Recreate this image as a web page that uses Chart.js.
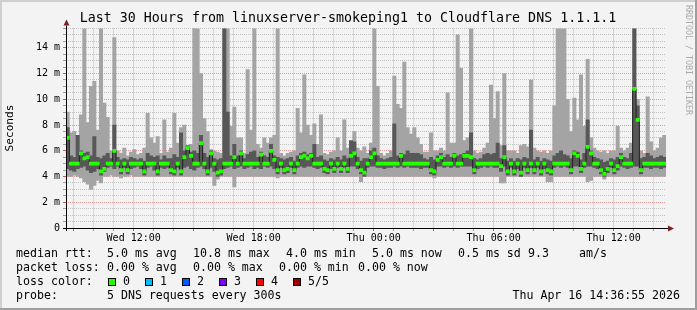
<!DOCTYPE html>
<html>
<head>
<meta charset="utf-8">
<script src="https://cdn.jsdelivr.net/npm/chart.js@4"></script>
<style>
  html, body { margin: 0; padding: 0; background: #f3f3f3; }
  canvas { display: block; }
</style>
</head>
<body>
<canvas id="chart" width="697" height="310"></canvas>
<script>
// 10-minute slots over the last 30 hours, values in ms

// ping 5 of 5 (top of the light smoke)
const pingMax = [
  9.0, 7.4, 7.5, 6.5, 8.8, 16, 8.2, 11.0, 11.4, 7.6,
  16, 9.7, 8.6, 6.0, 14.8, 6.0, 5.8, 6.2, 5.6, 5.9,
  6.1, 5.7, 5.8, 6.2, 8.9, 7.0, 6.6, 7.1, 5.8, 8.4,
  5.9, 6.2, 8.9, 6.6, 7.8, 8.0, 6.2, 6.5, 16, 16,
  12.0, 8.5, 7.5, 6.1, 6.0, 5.9, 5.8, 16, 16, 7.9,
  9.4, 7.0, 7.0, 5.8, 12.3, 7.6, 16, 6.5, 6.2, 7.0,
  6.6, 7.0, 7.2, 16, 5.8, 5.6, 5.8, 5.9, 6.0, 9.3,
  7.4, 11.9, 8.0, 7.2, 8.1, 6.5, 8.8, 5.8, 5.7, 5.9,
  6.0, 7.0, 6.0, 8.4, 6.2, 6.4, 7.5, 6.2, 6.0, 6.3,
  5.8, 6.6, 16, 11.0, 5.8, 5.6, 5.8, 6.0, 11.8, 9.6,
  9.3, 12.9, 7.8, 7.3, 7.8, 7.0, 6.5, 5.9, 5.9, 7.4,
  6.0, 6.0, 6.2, 6.0, 10.5, 6.6, 6.6, 15.0, 12.4, 6.8,
  7.0, 16, 6.0, 5.8, 5.9, 6.2, 6.6, 11.1, 8.5, 10.6,
  6.4, 12.0, 6.0, 6.0, 6.0, 5.8, 6.4, 6.5, 6.3, 11.5,
  6.2, 6.0, 5.9, 6.0, 5.8, 6.0, 9.5, 16, 16, 16,
  10.0, 7.5, 10.1, 8.4, 11.9, 7.9, 13.1, 7.0, 6.2, 6.0,
  5.9, 6.0, 5.8, 6.0, 6.0, 7.9, 6.2, 6.0, 6.2, 6.6,
  16, 10.0, 6.0, 5.8, 10.2, 6.7, 6.0, 6.2, 7.0, 7.2
];

// ping 1 of 5 (bottom of the light smoke)
const pingMin = [
  4.0, 4.0, 4.1, 4.0, 3.9, 3.6, 3.4, 3.0, 3.3, 3.7,
  3.5, 4.0, 4.0, 4.1, 4.0, 4.0, 3.9, 4.0, 4.0, 4.1,
  4.0, 4.0, 4.0, 4.0, 4.0, 4.0, 4.0, 4.0, 4.0, 4.0,
  4.0, 4.0, 4.0, 4.0, 4.0, 4.0, 4.0, 4.0, 4.0, 4.0,
  4.0, 4.0, 4.0, 4.0, 3.3, 3.8, 4.0, 4.0, 4.0, 4.0,
  3.2, 4.0, 4.0, 4.0, 4.0, 4.0, 4.0, 4.0, 4.0, 4.0,
  4.0, 4.0, 4.0, 3.9, 4.0, 4.0, 4.0, 4.0, 4.0, 4.0,
  4.0, 4.0, 4.0, 4.0, 4.0, 4.0, 4.0, 4.0, 4.0, 4.0,
  4.0, 4.0, 4.0, 4.0, 4.0, 4.0, 4.0, 4.0, 3.6, 4.0,
  4.0, 4.0, 4.0, 4.0, 4.0, 4.0, 4.0, 4.0, 4.0, 4.0,
  4.0, 4.0, 4.0, 4.0, 4.0, 4.0, 4.0, 4.0, 4.0, 4.0,
  3.9, 4.0, 4.0, 4.0, 4.0, 4.0, 4.0, 4.0, 4.0, 4.0,
  4.0, 4.0, 4.0, 4.0, 4.0, 4.0, 4.0, 4.0, 4.0, 4.0,
  3.5, 3.5, 4.0, 4.0, 4.0, 4.0, 4.0, 4.0, 4.0, 4.0,
  4.0, 4.0, 4.0, 4.0, 3.6, 3.6, 4.0, 4.0, 4.0, 4.0,
  4.0, 4.0, 4.0, 4.0, 4.0, 4.0, 3.6, 3.7, 4.0, 4.0,
  4.0, 3.8, 4.0, 4.0, 4.0, 4.0, 4.0, 4.0, 4.0, 4.0,
  4.0, 4.0, 4.0, 4.0, 4.0, 4.0, 4.0, 4.0, 4.0, 4.0
];

// ping 4 of 5 (top of the dark smoke)
const pingHigh = [
  7.8, 5.6, 5.5, 7.2, 6.0, 5.8, 5.9, 5.6, 7.1, 5.5,
  5.4, 5.6, 5.8, 5.4, 8.0, 5.5, 5.3, 5.4, 5.3, 5.5,
  5.4, 5.3, 5.4, 5.2, 5.8, 5.6, 5.5, 5.6, 5.3, 5.6,
  5.4, 5.4, 5.7, 5.5, 7.4, 6.0, 6.4, 5.9, 6.0, 5.8,
  7.2, 5.8, 5.5, 6.0, 5.4, 5.3, 5.4, 16, 9.0, 5.6,
  6.5, 5.6, 6.0, 5.4, 5.7, 5.9, 6.0, 5.5, 5.9, 5.6,
  5.5, 6.5, 5.6, 5.5, 5.4, 5.3, 5.4, 5.5, 5.2, 5.6,
  5.8, 5.9, 5.7, 5.8, 6.5, 5.5, 5.6, 5.3, 5.2, 5.4,
  5.3, 5.5, 5.3, 5.6, 5.4, 6.8, 6.7, 5.5, 5.2, 5.4,
  5.4, 6.0, 6.2, 5.6, 5.4, 5.3, 5.4, 5.5, 8.1, 5.6,
  5.8, 5.7, 6.0, 5.8, 5.8, 5.8, 5.7, 5.4, 5.3, 5.5,
  5.3, 5.6, 5.8, 5.5, 5.7, 5.5, 5.8, 5.6, 5.7, 5.8,
  6.0, 7.4, 5.4, 5.3, 5.4, 5.7, 5.8, 5.7, 5.8, 6.6,
  5.4, 6.4, 5.2, 5.4, 5.2, 5.4, 5.3, 5.5, 5.4, 7.6,
  5.3, 5.5, 5.2, 5.4, 5.3, 5.2, 5.6, 5.8, 6.0, 5.7,
  5.6, 5.4, 6.0, 5.9, 5.3, 5.8, 8.4, 6.0, 5.5, 5.4,
  5.3, 5.1, 5.2, 5.4, 5.3, 5.5, 5.8, 5.5, 5.4, 5.8,
  16, 9.5, 5.4, 5.5, 5.8, 5.6, 5.4, 5.5, 5.6, 5.5
];

// ping 2 of 5 (bottom of the dark smoke)
const pingLow = [
  4.6, 4.5, 4.4, 4.6, 4.7, 4.8, 4.5, 4.3, 4.4, 4.6,
  4.1, 4.4, 4.7, 4.8, 4.6, 4.8, 4.2, 4.7, 4.2, 4.6,
  4.7, 4.8, 4.6, 4.1, 4.7, 4.8, 4.5, 4.1, 4.7, 4.6,
  4.7, 4.2, 4.1, 4.7, 4.1, 4.7, 4.8, 4.6, 4.5, 4.7,
  4.8, 4.6, 4.1, 4.7, 4.4, 4.0, 4.1, 4.6, 4.7, 4.8,
  4.6, 4.7, 4.8, 4.6, 4.7, 4.8, 4.6, 4.7, 4.6, 4.8,
  4.7, 4.8, 4.6, 4.2, 4.7, 4.2, 4.3, 4.7, 4.2, 4.7,
  4.8, 4.7, 4.8, 4.8, 4.7, 4.6, 4.7, 4.3, 4.2, 4.6,
  4.3, 4.7, 4.3, 4.7, 4.3, 4.8, 4.8, 4.6, 4.2, 4.0,
  4.7, 4.8, 4.8, 4.7, 4.7, 4.6, 4.7, 4.7, 4.8, 4.7,
  4.8, 4.7, 4.8, 4.7, 4.7, 4.7, 4.6, 4.7, 4.7, 4.2,
  4.1, 4.8, 4.8, 4.7, 4.8, 4.7, 4.8, 4.7, 4.8, 4.8,
  4.8, 4.8, 4.2, 4.6, 4.7, 4.8, 4.7, 4.8, 4.7, 4.7,
  4.4, 4.8, 4.1, 4.7, 4.1, 4.6, 4.0, 4.7, 4.2, 4.7,
  4.2, 4.7, 4.1, 4.6, 4.2, 4.1, 4.7, 4.8, 4.7, 4.8,
  4.7, 4.2, 4.8, 4.8, 4.3, 4.7, 4.8, 4.8, 4.7, 4.6,
  4.2, 4.0, 4.3, 4.7, 4.2, 4.5, 4.8, 4.7, 4.6, 4.7,
  4.8, 4.8, 4.2, 4.7, 4.7, 4.6, 4.7, 4.7, 4.6, 4.7
];

// median rtt
const median = [
  7.0, 5.0, 5.0, 5.0, 5.8, 5.4, 5.5, 5.0, 5.0, 5.0,
  4.4, 4.6, 5.0, 5.0, 6.0, 5.0, 4.5, 5.0, 4.5, 5.0,
  5.0, 5.0, 5.0, 4.4, 5.0, 5.0, 5.0, 4.4, 5.0, 5.0,
  5.0, 4.5, 4.4, 5.0, 4.4, 5.5, 6.2, 5.6, 5.0, 5.0,
  6.6, 5.0, 4.4, 5.8, 5.0, 4.3, 4.4, 5.0, 5.0, 5.0,
  5.5, 5.0, 5.8, 5.0, 5.0, 5.0, 5.0, 5.0, 5.7, 5.0,
  5.0, 6.0, 5.3, 4.5, 5.0, 4.5, 4.6, 5.0, 4.5, 5.0,
  5.5, 5.6, 5.4, 5.6, 5.0, 5.0, 5.0, 4.6, 4.5, 5.0,
  4.6, 5.0, 4.6, 5.0, 4.6, 5.6, 5.8, 5.0, 4.5, 4.3,
  5.0, 5.5, 5.8, 5.0, 5.0, 5.0, 5.0, 5.0, 5.0, 5.0,
  5.6, 5.0, 5.0, 5.0, 5.0, 5.0, 5.0, 5.0, 5.0, 4.5,
  4.4, 5.3, 5.5, 5.0, 5.0, 5.0, 5.6, 5.0, 5.0, 5.6,
  5.6, 5.5, 4.5, 5.0, 5.0, 5.0, 5.0, 5.0, 5.0, 5.0,
  4.8, 5.5, 4.4, 5.0, 4.4, 5.0, 4.3, 5.0, 4.5, 5.0,
  4.5, 5.0, 4.4, 5.0, 4.5, 4.4, 5.0, 5.0, 5.0, 5.0,
  5.0, 4.5, 5.8, 5.6, 4.6, 5.0, 6.3, 5.8, 5.0, 5.0,
  4.5, 4.2, 4.6, 5.0, 4.5, 4.8, 5.5, 5.0, 5.0, 5.0,
  10.8, 8.4, 4.5, 5.0, 5.0, 5.0, 5.0, 5.0, 5.0, 5.0
];

const slots = median.map((_, i) => i);

// time axis: minutes since window start (Wed 08:36:55), hourly grid from 09:00
const windowMinutes = 1800;
const firstHourOffset = 23.08;
const firstHour = 9;
const hourCount = 30;
const hourLabels = ['Wed 12:00', 'Wed 18:00', 'Thu 00:00', 'Thu 06:00', 'Thu 12:00'];
const yMax = 15.5;
const yStep = 0.5;

const medHalf = 0.12;
const FONT = 'DejaVu Sans Mono';
const MINOR = 'rgba(143,143,143,0.5)';
const MAJOR = 'rgba(222,80,80,0.55)';

const hourTicks = [];
for (let k = 0; k < hourCount; k++) {
  const pos = firstHourOffset + 60 * k;
  if (pos > windowMinutes) break;
  hourTicks.push({ value: pos, hour: firstHour + k });
}

const frame = {
  id: 'frame',
  beforeDraw(chart) {
    const ctx = chart.ctx;
    ctx.save();
    ctx.fillStyle = '#f3f3f3';
    ctx.fillRect(0, 0, 697, 310);
    ctx.fillStyle = '#cfcfcf';
    ctx.fillRect(0, 0, 697, 2);
    ctx.fillRect(0, 0, 2, 310);
    ctx.fillStyle = '#9e9e9e';
    ctx.fillRect(0, 308, 697, 2);
    ctx.fillRect(695, 0, 2, 310);
    ctx.restore();
  },
  afterDatasetsDraw(chart) {
    const ctx = chart.ctx;
    const { left, right, top, bottom } = chart.chartArea;
    ctx.save();
    ctx.strokeStyle = '#000';
    ctx.lineWidth = 1;
    ctx.beginPath();
    ctx.moveTo(left - 3, bottom + 0.5);
    ctx.lineTo(right + 3, bottom + 0.5);
    ctx.moveTo(left + 0.5, bottom + 3);
    ctx.lineTo(left + 0.5, top - 3);
    ctx.stroke();
    // arrows
    ctx.fillStyle = '#7f1f1f';
    ctx.beginPath();
    ctx.moveTo(right + 2, bottom - 2.5);
    ctx.lineTo(right + 8, bottom + 0.5);
    ctx.lineTo(right + 2, bottom + 3.5);
    ctx.closePath();
    ctx.fill();
    ctx.beginPath();
    ctx.moveTo(left - 2.5, top - 3);
    ctx.lineTo(left + 0.5, top - 9);
    ctx.lineTo(left + 3.5, top - 3);
    ctx.closePath();
    ctx.fill();
    ctx.restore();
  },
  afterDraw(chart) {
    const ctx = chart.ctx;
    ctx.save();
    ctx.fillStyle = '#000';
    ctx.textBaseline = 'middle';

    ctx.font = '13.3px "' + FONT + '"';
    ctx.textAlign = 'center';
    ctx.fillText('Last 30 Hours from linuxserver-smokeping1 to Cloudflare DNS 1.1.1.1', 348, 19);

    // y title
    ctx.save();
    ctx.font = '11.1px "' + FONT + '"';
    ctx.translate(10, 128);
    ctx.rotate(-Math.PI / 2);
    ctx.fillText('Seconds', 0, 0);
    ctx.restore();

    // watermark
    ctx.save();
    ctx.fillStyle = '#aaaaaa';
    ctx.font = '8.3px "' + FONT + '"';
    ctx.translate(688, 60);
    ctx.rotate(Math.PI / 2);
    ctx.fillText('RRDTOOL / TOBI OETIKER', 0, 0);
    ctx.restore();

    // legend
    ctx.font = '11.6px "' + FONT + '"';
    ctx.textAlign = 'left';
    const rows = [
      [254, [[16, 'median rtt:'], [107, '5.0 ms avg'], [193, '10.8 ms max'], [286, '4.0 ms min'],
             [372, '5.0 ms now'], [458, '0.5 ms sd'], [528, '9.3'], [579, 'am/s']]],
      [268, [[16, 'packet loss:'], [107, '0.00 % avg'], [193, '0.00 % max'], [279, '0.00 % min'],
             [358, '0.00 % now']]],
      [282, [[16, 'loss color:']]],
      [296, [[16, 'probe:'], [107, '5 DNS requests every 300s']]]
    ];
    rows.forEach(([y, items]) => items.forEach(([x, t]) => ctx.fillText(t, x, y)));

    const lossColors = ['#26ff00', '#00b8ff', '#0059ff', '#7e00ff', '#ff0000', '#a10000'];
    const lossNames = ['0', '1', '2', '3', '4', '5/5'];
    lossColors.forEach((c, i) => {
      const bx = 108 + 37 * i;
      ctx.fillStyle = c;
      ctx.fillRect(bx, 278, 8, 8);
      ctx.strokeStyle = '#000';
      ctx.strokeRect(bx + 0.5, 278.5, 7, 7);
      ctx.fillStyle = '#000';
      ctx.fillText(lossNames[i], bx + 15, 282);
    });

    ctx.textAlign = 'right';
    ctx.fillText('Thu Apr 16 14:36:55 2026', 680, 296);
    ctx.restore();
  }
};

new Chart(document.getElementById('chart'), {
  data: {
    labels: slots,
    datasets: [
      {
        type: 'bar',
        data: median.map(m => [m - medHalf, m + medHalf]),
        backgroundColor: '#26ff00',
        grouped: false,
        barPercentage: 1,
        categoryPercentage: 1,
        order: 0
      },
      {
        type: 'line',
        data: median,
        borderColor: '#202020',
        borderWidth: 1,
        pointRadius: 0,
        stepped: 'middle',
        order: 1
      },
      {
        type: 'bar',
        data: pingLow.map((v, i) => [v, pingHigh[i]]),
        backgroundColor: '#585858',
        grouped: false,
        barPercentage: 1,
        categoryPercentage: 1,
        order: 2
      },
      {
        type: 'bar',
        data: pingMin.map((v, i) => [v, pingMax[i]]),
        backgroundColor: '#a4a4a4',
        grouped: false,
        barPercentage: 1,
        categoryPercentage: 1,
        order: 3
      }
    ]
  },
  options: {
    responsive: false,
    animation: false,
    events: [],
    layout: { padding: { top: 28.5, right: 31, bottom: 0, left: 0 } },
    plugins: { legend: { display: false }, tooltip: { enabled: false }, title: { display: false } },
    scales: {
      x: { type: 'category', display: false, offset: true },
      xt: {
        type: 'linear',
        position: 'bottom',
        min: 0,
        max: windowMinutes,
        bounds: 'data',
        afterBuildTicks: s => { s.ticks = hourTicks.map(t => ({ value: t.value })); },
        afterFit: s => { s.height = 82; },
        border: { display: false, dash: [1, 1] },
        grid: {
          color: c => (hourTicks[c.index] && hourTicks[c.index].hour % 3 === 0) ? MAJOR : MINOR,
          tickColor: c => (hourTicks[c.index] && hourTicks[c.index].hour % 3 === 0) ? '#de5050' : '#a0a0a0',
          tickLength: 3
        },
        ticks: {
          autoSkip: false,
          maxRotation: 0,
          padding: 1,
          color: '#000',
          font: { family: FONT, size: 10 },
          callback: (v, i) => {
            const h = hourTicks[i].hour;
            return h % 6 === 0 ? hourLabels[(h - 12) / 6] : '';
          }
        }
      },
      y: {
        min: 0,
        max: yMax,
        afterBuildTicks: s => {
          const t = [];
          for (let v = 0; v <= yMax + 1e-9; v += yStep) t.push({ value: Math.round(v * 10) / 10 });
          s.ticks = t;
        },
        afterFit: s => { s.width = 66; },
        border: { display: false, dash: [1, 1] },
        grid: {
          color: c => (c.tick && c.tick.value % 2 === 0) ? MAJOR : MINOR,
          tickColor: c => (c.tick && c.tick.value % 2 === 0) ? '#de5050' : '#a0a0a0',
          tickLength: 3
        },
        ticks: {
          autoSkip: false,
          padding: 3,
          color: '#000',
          font: { family: FONT, size: 10 },
          callback: v => v % 2 === 0 ? (v === 0 ? '0' : v + ' m') : ''
        }
      }
    }
  },
  plugins: [frame]
});
</script>
</body>
</html>
